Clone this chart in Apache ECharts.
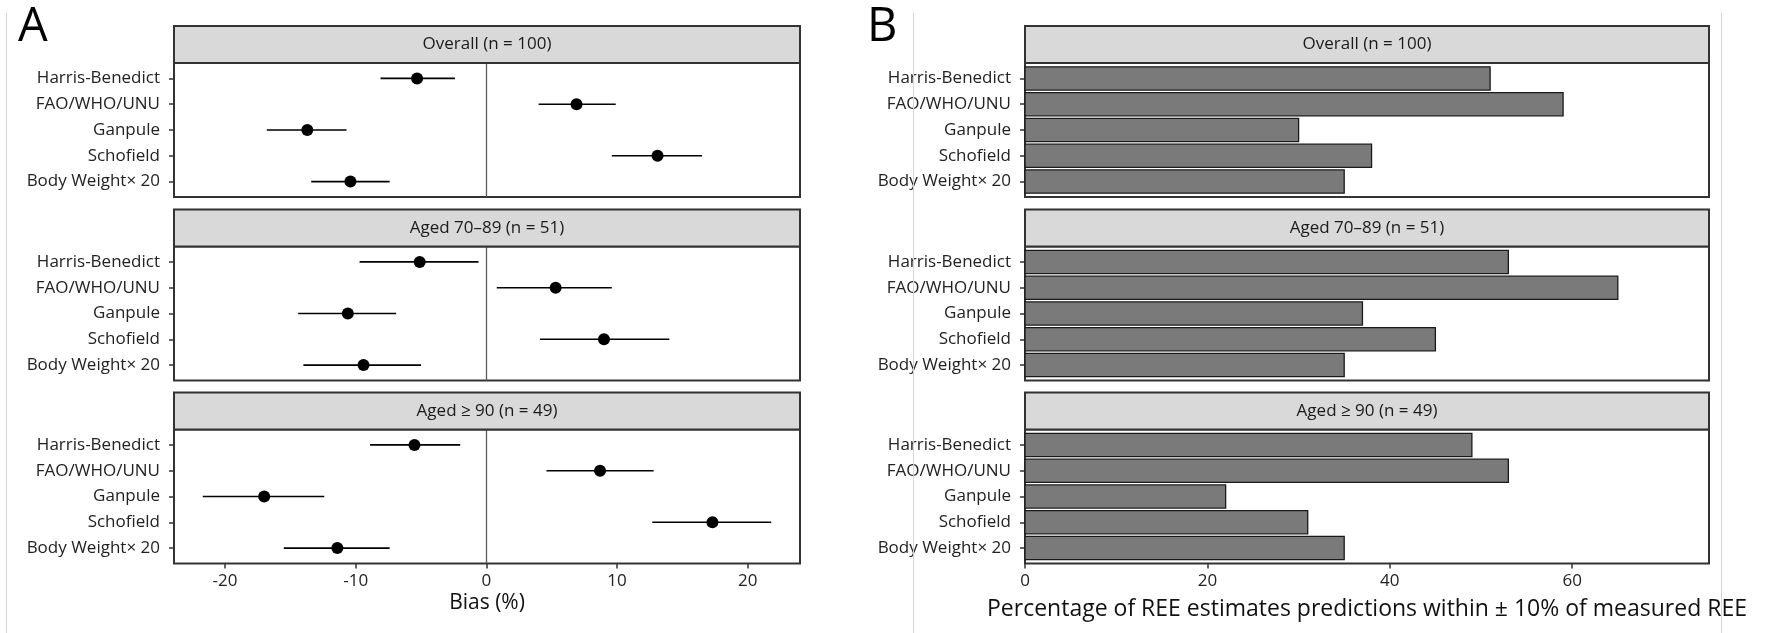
<!DOCTYPE html>
<html>
<head>
<meta charset="utf-8">
<script src="https://cdn.jsdelivr.net/npm/echarts@6/dist/echarts.min.js"></script>
<style>
html,body{margin:0;padding:0;background:#fff;}
#chart{width:1767px;height:633px;}
</style>
</head>
<body>
<div id="chart"></div>
<script>
// ---------------- data ----------------
const methods = ['Harris-Benedict', 'FAO/WHO/UNU', 'Ganpule', 'Schofield', 'Body Weight\u00d7 20'];
const groups = ['Overall (n = 100)', 'Aged 70\u201389 (n = 51)', 'Aged \u2265 90 (n = 49)'];

// Panel A: bias (%) with 95% limits
const biasOverall = [-5.3, 6.9, -13.7, 13.1, -10.4];
const lowerOverall = [-8.1, 4.0, -16.8, 9.6, -13.4];
const upperOverall = [-2.4, 9.9, -10.7, 16.5, -7.4];

const bias7089 = [-5.1, 5.3, -10.6, 9.0, -9.4];
const lower7089 = [-9.7, 0.8, -14.4, 4.1, -14.0];
const upper7089 = [-0.6, 9.6, -6.9, 14.0, -5.0];

const bias90 = [-5.5, 8.7, -17.0, 17.3, -11.4];
const lower90 = [-8.9, 4.6, -21.7, 12.7, -15.5];
const upper90 = [-2.0, 12.8, -12.4, 21.8, -7.4];

// Panel B: percentage of accurate predictions (within ±10%)
const pctOverall = [51, 59, 30, 38, 35];
const pct7089 = [53, 65, 37, 45, 35];
const pct90 = [49, 53, 22, 31, 35];

const biasTicks = [-20, -10, 0, 10, 20];
const pctTicks = [0, 20, 40, 60];
const methodPos = [1, 2, 3, 4, 5];

const biasSets = [biasOverall, bias7089, bias90];
const lowerSets = [lowerOverall, lower7089, lower90];
const upperSets = [upperOverall, upper7089, upper90];
const pctSets = [pctOverall, pct7089, pct90];

// ---------------- layout / style ----------------
const FONT = "'Open Sans', 'Noto Sans', sans-serif";
const stripTops = [26, 209.5, 392.5];
const stripH = 37;
const panelTops = [63, 246.5, 429.5];
const panelH = 134;
const A = {left: 174, width: 626};
const B = {left: 1025, width: 684};
const BORDER = '#333333';
const TXT = '#222222';

const grids = [], xAxes = [], yAxes = [], series = [], graphics = [];

function addPanel(side, g, isBottom) {
  const idx = grids.length;
  grids.push({left: side.left, width: side.width, top: panelTops[g], height: panelH,
    show: true, borderColor: BORDER, borderWidth: 2, backgroundColor: '#fff'});
  const isA = side === A;
  xAxes.push({
    type: 'value', gridIndex: idx, position: 'bottom',
    min: isA ? -23.9 : 0, max: isA ? 24.0 : 75,
    splitLine: {show: false}, axisLine: {show: false, onZero: false},
    axisTick: {show: isBottom, length: 5, customValues: isA ? biasTicks : pctTicks,
      lineStyle: {color: BORDER, width: 1.5}},
    axisLabel: {show: isBottom, customValues: isA ? biasTicks : pctTicks, margin: 9,
      fontFamily: FONT, fontSize: 17, color: TXT},
    name: isBottom ? (isA ? 'Bias (%)' : 'Percentage of REE estimates predictions within \u00b1 10% of measured REE') : '',
    nameLocation: 'middle', nameGap: isA ? 29 : 34,
    nameTextStyle: {fontFamily: FONT, fontSize: isA ? 21 : 23, color: '#111'}
  });
  yAxes.push({
    type: 'value', gridIndex: idx, position: 'left', min: 0.4, max: 5.6, inverse: true,
    splitLine: {show: false}, axisLine: {show: false, onZero: false},
    axisTick: {show: true, length: 5, customValues: methodPos, lineStyle: {color: BORDER, width: 1.5}},
    axisLabel: {customValues: methodPos, margin: 14, fontFamily: FONT, fontSize: 17, color: TXT,
      formatter: v => methods[Math.round(v) - 1]}
  });
  // strip
  graphics.push({type: 'rect', shape: {x: side.left, y: stripTops[g], width: side.width, height: stripH},
    style: {fill: '#d9d9d9', stroke: BORDER, lineWidth: 2}, z: 10});
  graphics.push({type: 'text', x: side.left + side.width / 2, y: stripTops[g] + stripH / 2,
    style: {text: groups[g], font: '17px ' + FONT, fill: '#1a1a1a', textAlign: 'center', textVerticalAlign: 'middle'}, z: 11});
  return idx;
}

for (let g = 0; g < 3; g++) {
  const ia = addPanel(A, g, g === 2);
  const errData = methods.map((m, i) => [lowerSets[g][i], upperSets[g][i], methodPos[i]]);
  series.push({
    type: 'custom', xAxisIndex: ia, yAxisIndex: ia, data: errData, encode: {x: [0, 1], y: 2},
    renderItem: function (params, api) {
      const y = api.value(2);
      const p1 = api.coord([api.value(0), y]);
      const p2 = api.coord([api.value(1), y]);
      return {type: 'line', shape: {x1: p1[0], y1: p1[1], x2: p2[0], y2: p2[1]},
        style: {stroke: '#000', lineWidth: 1.7}};
    },
    markLine: {silent: true, symbol: 'none', label: {show: false},
      lineStyle: {color: '#5a5a5a', width: 1.3, type: 'solid', opacity: 1}, data: [{xAxis: 0}]},
    z: 2
  });
  series.push({
    type: 'scatter', xAxisIndex: ia, yAxisIndex: ia, symbol: 'circle', symbolSize: 12,
    itemStyle: {color: '#000', opacity: 1},
    data: methods.map((m, i) => [biasSets[g][i], methodPos[i]]), z: 3
  });

  const ib = addPanel(B, g, g === 2);
  series.push({
    type: 'custom', xAxisIndex: ib, yAxisIndex: ib,
    data: methods.map((m, i) => [pctSets[g][i], methodPos[i]]), encode: {x: 0, y: 1},
    renderItem: function (params, api) {
      const v = api.value(0), y = api.value(1);
      const a = api.coord([0, y - 0.45]);
      const b = api.coord([v, y + 0.45]);
      return {type: 'rect',
        shape: {x: Math.min(a[0], b[0]), y: Math.min(a[1], b[1]), width: Math.abs(b[0] - a[0]), height: Math.abs(b[1] - a[1])},
        style: {fill: '#7a7a7a', stroke: '#1a1a1a', lineWidth: 1.3}};
    },
    z: 2
  });
}

// panel letters and faint figure separators
graphics.push({type: 'text', x: 18, y: 4, style: {text: 'A', font: '47px ' + FONT, fill: '#000'}, z: 12});
graphics.push({type: 'text', x: 867, y: 4, style: {text: 'B', font: '47px ' + FONT, fill: '#000'}, z: 12});
[6.5, 913.5, 1721.5].forEach(x => graphics.push({type: 'line', shape: {x1: x, y1: 13, x2: x, y2: 633},
  style: {stroke: '#d6d6d6', lineWidth: 1}, z: 1}));

const chart = echarts.init(document.getElementById('chart'), null, {renderer: 'canvas'});
chart.setOption({
  animation: false,
  backgroundColor: '#fff',
  grid: grids, xAxis: xAxes, yAxis: yAxes, series: series, graphic: graphics
});
</script>
</body>
</html>
